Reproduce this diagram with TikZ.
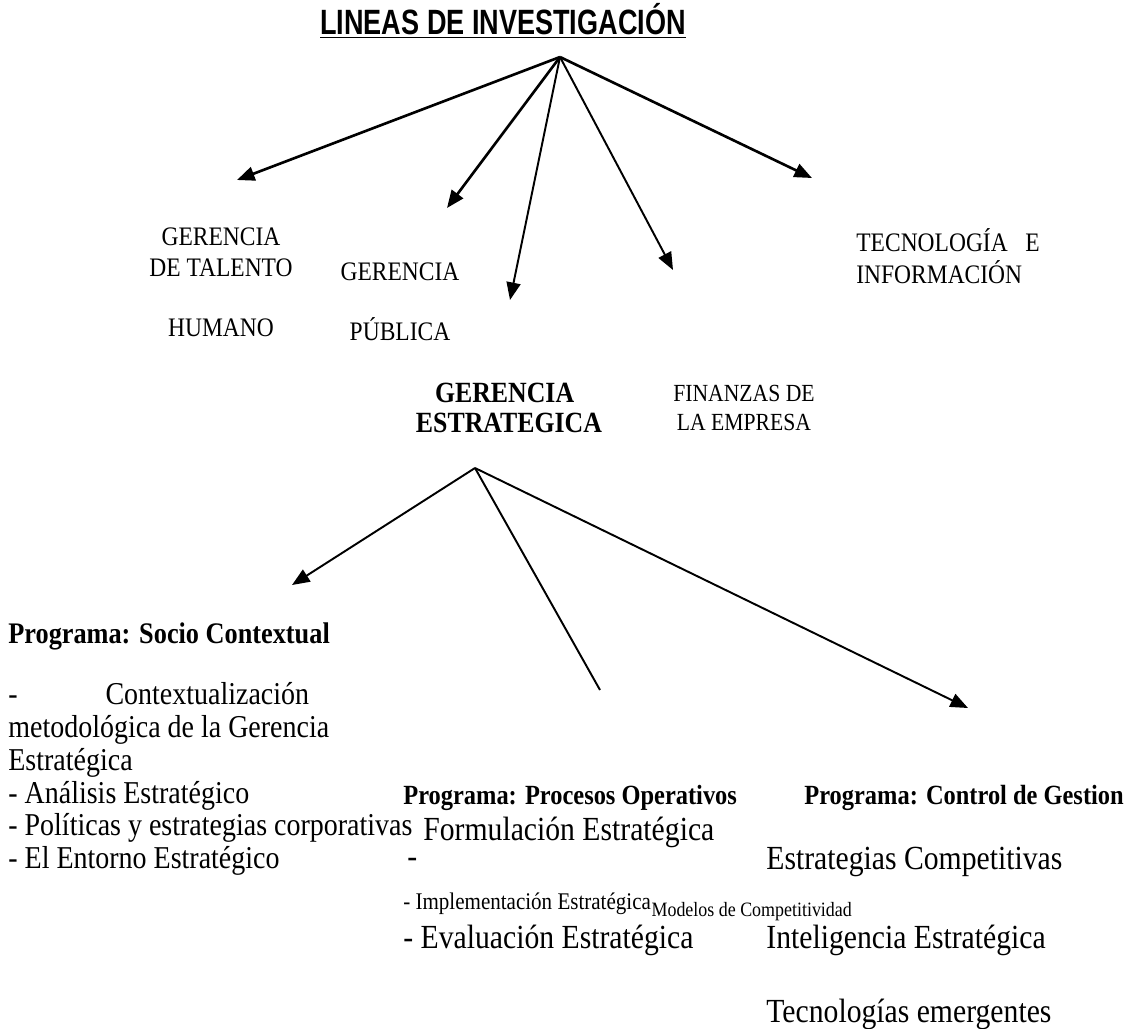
\documentclass[tikz,border=0pt]{standalone}
\usepackage{fontspec}
\usepackage{graphicx}
\setmainfont[FakeStretch=0.88]{Liberation Serif}
\newfontfamily\titlefont{Liberation Sans}
\usetikzlibrary{arrows.meta,positioning}

\begin{document}
\begin{tikzpicture}[
    x=0.02cm, y=-0.02cm,
    branch/.style={-{Triangle[length=10pt,width=8pt]}, line width=1.5pt},
    thinbranch/.style={-{Triangle[length=10pt,width=8pt]}, line width=1.1pt},
    linea/.style={font=\fontsize{15.2}{18}\selectfont, align=center, inner sep=0pt},
    item/.style={font=\fontsize{19.2}{22}\selectfont, anchor=west, inner sep=0pt},
    programa/.style={font=\fontsize{15.8}{18}\selectfont\bfseries, anchor=west, inner sep=0pt}
]
\useasboundingbox (0,0) rectangle (1138,1028);

% Title
\node[inner sep=0pt] (title) at (503,21) {\titlefont\bfseries\fontsize{20}{22}\selectfont\scalebox{0.77}[1]{\underline{LINEAS DE INVESTIGACIÓN}}};

% Research lines
\coordinate (top) at (560,57);
\coordinate (tipTalento) at (237,180);
\coordinate (tipPublica) at (447,208);
\coordinate (tipEstrat) at (510,300);
\coordinate (tipFinanzas) at (673,270);
\coordinate (tipTecno) at (812,178);

\node[linea] (talento) at (221,282) {GERENCIA\\DE TALENTO\\[16pt]HUMANO};
\node[linea] (publica) at (400,302) {GERENCIA\\[16pt]PÚBLICA};
\node[linea, font=\fontsize{16.7}{17}\selectfont\bfseries] (estrategica) at (509,408) {GERENCIA\hspace*{5pt}\\ESTRATEGICA};
\node[linea, font=\fontsize{14}{17}\selectfont] (finanzas) at (744,408) {FINANZAS DE\\LA EMPRESA};
\node[linea, align=left, anchor=west] (tecno) at (856,256) {TECNOLOGÍA\ \ \ E\\INFORMACIÓN};

\draw[branch] (top) -- (tipTalento);
\draw[branch] (top) -- (tipPublica);
\draw[thinbranch] (top) -- (tipEstrat);
\draw[thinbranch] (top) -- (tipFinanzas);
\draw[branch] (top) -- (tipTecno);

% Programs of Gerencia Estrategica
\coordinate (hub) at (475,468);
\coordinate (tipSocio) at (292,585);
\coordinate (endProcesos) at (600,690);
\coordinate (tipControl) at (968,708);

\draw[thinbranch] (hub) -- (tipSocio);
\draw[line width=1.1pt] (hub) -- (endProcesos);
\draw[thinbranch] (hub) -- (tipControl);

% Socio Contextual
\node[programa, font=\fontsize{17}{18}\selectfont\bfseries] (socio) at (8,636) {Programa: Socio Contextual};
\node[item, font=\fontsize{18.1}{18.7}\selectfont, align=left] (sociolist) at (8,779) {-\hspace{50pt}Contextualización\\metodológica de la Gerencia\\Estratégica\\- Análisis Estratégico\\- Políticas y estrategias corporativas\\- El Entorno Estratégico};

% Procesos Operativos
\node[programa] (procesos) at (403,798) {Programa: Procesos Operativos};
\node[item] (formulacion) at (423,832) {Formulación Estratégica};
\node[item] (guion) at (407,863) {-};
\node[item, font=\fontsize{13.6}{15}\selectfont] (implementacion) at (403,904) {- Implementación Estratégica};
\node[inner sep=0pt, anchor=base west, yshift=-4pt, font=\fontsize{11.6}{14}\selectfont] (modelos) at (implementacion.base east) {Modelos de Competitividad};
\node[item] (evaluacion) at (403,940) {- Evaluación Estratégica};

% Control de Gestion
\node[programa] (control) at (804,798) {Programa: Control de Gestion};
\node[item] (competitivas) at (766,862) {Estrategias Competitivas};
\node[item] (inteligencia) at (766,940) {Inteligencia Estratégica};
\node[item] (emergentes) at (766,1014) {Tecnologías emergentes};

\end{tikzpicture}
\end{document}
